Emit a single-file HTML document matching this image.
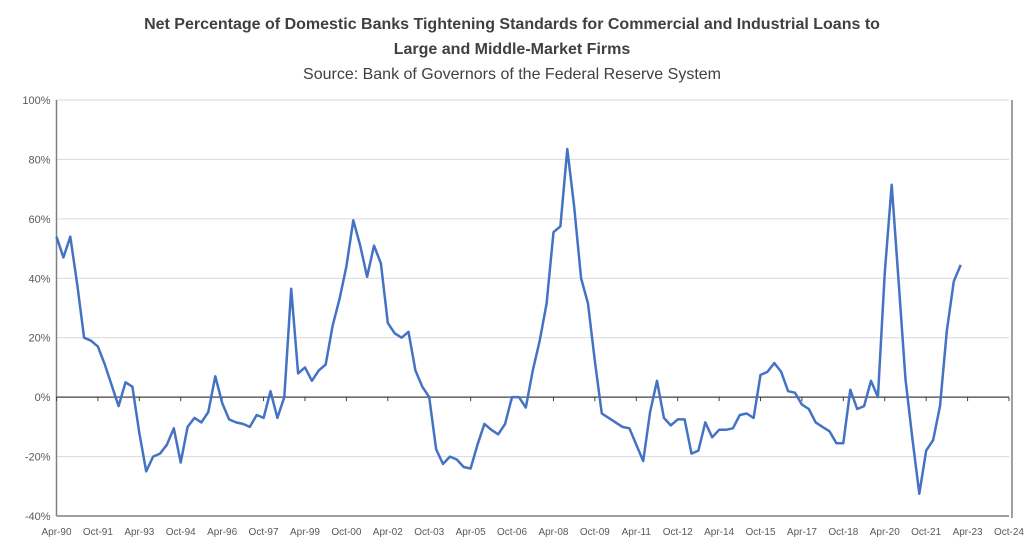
<!DOCTYPE html>
<html><head><meta charset="utf-8"><style>
body{margin:0;background:#fff;}
svg{display:block;font-family:"Liberation Sans",sans-serif;}
</style></head><body>
<svg id="chart" width="1024" height="546" viewBox="0 0 1024 546">
<rect x="0" y="0" width="1024" height="546" fill="#fff"/>
<text x="512" y="29" text-anchor="middle" font-size="16" font-weight="bold" fill="#404040">Net Percentage of Domestic Banks Tightening Standards for Commercial and Industrial Loans to</text>
<text x="512" y="54" text-anchor="middle" font-size="16" font-weight="bold" fill="#404040">Large and Middle-Market Firms</text>
<text x="512" y="79" text-anchor="middle" font-size="16" fill="#404040">Source: Bank of Governors of the Federal Reserve System</text>
<g id="grid"></g><g id="yaxis"></g><g id="xaxis"></g><g id="series"></g>
</svg>
<script>
const yTicks=[-40,-20,0,20,40,60,80,100];
const xLabels=["Apr-90","Oct-91","Apr-93","Oct-94","Apr-96","Oct-97","Apr-99","Oct-00","Apr-02","Oct-03","Apr-05","Oct-06","Apr-08","Oct-09","Apr-11","Oct-12","Apr-14","Oct-15","Apr-17","Oct-18","Apr-20","Oct-21","Apr-23","Oct-24"];
const values=[54,47,54,38,20,19,17,11,4,-3,5,3.5,-12,-25,-20,-19,-16,-10.5,-22,-10,-7,-8.5,-5,7,-2,-7.5,-8.5,-9,-10,-6,-7,2,-7,0,36.5,8,10,5.5,9,11,24,33,44,59.5,51,40.5,51,45,25,21.5,20,22,9,3.5,0,-17.5,-22.5,-20,-21,-23.5,-24,-16,-9,-11,-12.5,-9,0,0,-3.5,9,19,31.5,55.5,57.5,83.5,64,40,31.5,12,-5.5,-7,-8.5,-10,-10.5,-16,-21.5,-5,5.5,-7,-9.5,-7.5,-7.5,-19,-18,-8.5,-13.5,-11,-11,-10.5,-6,-5.5,-7,7.5,8.5,11.5,8.5,2,1.5,-2.5,-4,-8.5,-10,-11.5,-15.5,-15.5,2.5,-4,-3,5.5,0,42,71.5,39,6,-14,-32.5,-18,-14.5,-3,22.5,39,44.5];
const X0=56.5,X1=1009,Y0=516,Y1=100,NQ=138;
const xs=i=>X0+(X1-X0)*i/NQ;
const ys=v=>Y0-(v+40)/140*(Y0-Y1);
const NS="http://www.w3.org/2000/svg";
function mk(t,a,p){const e=document.createElementNS(NS,t);for(const k in a)e.setAttribute(k,a[k]);p.appendChild(e);return e;}
const grid=document.getElementById('grid'),ya=document.getElementById('yaxis'),xa=document.getElementById('xaxis'),se=document.getElementById('series');
yTicks.forEach(v=>{
  if(v!==0&&v!==-40){const l=mk('line',{x1:X0,x2:X1,y1:ys(v),y2:ys(v),stroke:'#d9d9d9','stroke-width':1},grid);
  
  }
  const t=mk('text',{x:X0-6,y:ys(v)+4,'text-anchor':'end','font-size':11,fill:'#595959'},ya);
  t.textContent=v+'%';
  
  
});
const yl=mk('line',{x1:X0,x2:X0,y1:Y1,y2:Y0,stroke:'#808080','stroke-width':1.5},ya);


const bl=mk('line',{x1:X0,x2:X1,y1:Y0,y2:Y0,stroke:'#808080','stroke-width':1.5},xa);


const rl=mk('line',{x1:X1+3,x2:X1+3,y1:Y1,y2:Y0+2,stroke:'#808080','stroke-width':1.5},xa);


const zl=mk('line',{x1:X0,x2:X1,y1:ys(0),y2:ys(0),stroke:'#404040','stroke-width':1.2},xa);


xLabels.forEach((s,i)=>{
  const x=xs(i*6);
  const tk=mk('line',{x1:x,x2:x,y1:ys(0),y2:ys(0)+4,stroke:'#404040','stroke-width':1},xa);
  
  
  const t=mk('text',{x:x,y:535,'text-anchor':'middle','font-size':10,fill:'#595959'},xa);
  t.textContent=s;
  
  
});
const pts=values.map((v,i)=>xs(i).toFixed(1)+','+ys(v).toFixed(1)).join(' ');
const pl=mk('polyline',{points:pts,fill:'none',stroke:'#4472c4','stroke-width':2.5,'stroke-linejoin':'round'},se);


</script>
</body></html>
